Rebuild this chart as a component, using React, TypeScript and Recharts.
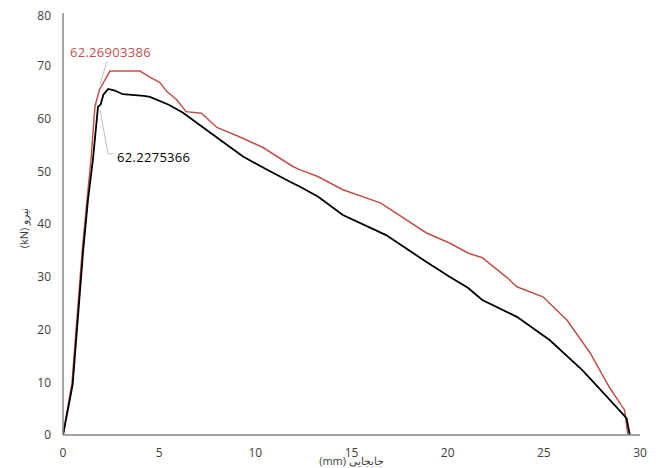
import React from "react";
import { LineChart, Line, XAxis, YAxis, ReferenceDot } from "recharts";

const xTicks = [0, 5, 10, 15, 20, 25, 30];
const yTicks = [0, 10, 20, 30, 40, 50, 60, 70, 80];

const blackX = [0, 0.5, 1.05, 1.3, 1.55, 1.82, 1.95, 2.1, 2.35, 2.7, 3.1, 4.2, 4.52, 5.5, 6.24, 8.0, 9.36, 10.4, 11.8, 12.3, 13.25, 14.55, 16.8, 18.9, 20.1, 21.05, 21.8, 23.6, 25.3, 27.0, 28.3, 29.3, 29.47];
const blackY = [0, 9.5, 35, 44.6, 52, 62.23, 62.6, 64.5, 65.6, 65.3, 64.6, 64.3, 64.1, 62.6, 61.1, 56.4, 52.8, 50.7, 48.0, 47.1, 45.2, 41.7, 37.9, 32.8, 30.0, 27.9, 25.6, 22.4, 18.0, 12.3, 7.2, 3.2, 0];

const redX = [0, 0.47, 1.0, 1.25, 1.45, 1.66, 1.9, 2.44, 4.0, 4.5, 5.04, 5.4, 5.9, 6.4, 7.2, 8.0, 9.2, 10.4, 11.95, 12.3, 13.25, 14.55, 16.5, 18.9, 20.1, 21.05, 21.8, 23.1, 23.6, 24.95, 26.2, 27.4, 28.4, 29.2, 29.37];
const redY = [0, 9.9, 35, 44.6, 52, 62.27, 65.5, 69.0, 69.0, 67.9, 66.8, 65.1, 63.6, 61.3, 61.0, 58.3, 56.5, 54.5, 50.9, 50.3, 49.0, 46.5, 44.0, 38.3, 36.4, 34.5, 33.6, 29.8, 28.1, 26.2, 21.8, 15.6, 9.1, 4.7, 0];

const redLabel = "62.26903386";
const blackLabel = "62.2275366";
const redPeakX = 1.66;
const redPeakY = 62.27;
const blackPeakX = 1.82;
const blackPeakY = 62.23;

const blackData = blackX.map((x, i) => ({ x, y: blackY[i] }));
const redData = redX.map((x, i) => ({ x, y: redY[i] }));

const RED = "#c0504d";
const AXIS = "#868686";
const FONT = "'Open Sans', 'Noto Sans', sans-serif";

const RedLabel = (props: any) => {
  const vb = props.viewBox || {};
  const cx = vb.x + (vb.width || 0) / 2;
  const cy = vb.y + (vb.height || 0) / 2;
  return (
    <g>
      <line x1={cx + 5} y1={cy - 22} x2={cx + 12} y2={cy - 45} stroke="#bfbfbf" strokeWidth={1} />
      <text x={cx - 25} y={cy - 55} fill={RED} fontSize={13} fontFamily={FONT} dominantBaseline="central" letterSpacing={0.3}>
        {redLabel}
      </text>
    </g>
  );
};

const BlackLabel = (props: any) => {
  const vb = props.viewBox || {};
  const cx = vb.x + (vb.width || 0) / 2;
  const cy = vb.y + (vb.height || 0) / 2;
  return (
    <g>
      <polyline points={`${cx + 2},${cy + 3} ${cx + 10},${cy + 47} ${cx + 15},${cy + 47}`} fill="none" stroke="#bfbfbf" strokeWidth={1} />
      <text x={cx + 19} y={cy + 50} fill="#000" fontSize={13} fontFamily={FONT} dominantBaseline="central" letterSpacing={0.3}>
        {blackLabel}
      </text>
    </g>
  );
};

const YLabel = (props: any) => {
  const vb = props.viewBox || {};
  const x = vb.x + 15;
  const y = vb.y + vb.height / 2 + 4;
  return (
    <text x={x} y={y} transform={`rotate(-90, ${x}, ${y})`} textAnchor="middle" dominantBaseline="central" fontSize={11} fontFamily={FONT} fill="#404040">
      (kN) نیرو
    </text>
  );
};

export default function App() {
  return (
    <div style={{ width: 653, height: 460 }}>
      <LineChart width={653} height={460} margin={{ top: 5, right: 21, bottom: 0, left: 0 }}>
        <XAxis
          dataKey="x"
          type="number"
          domain={[0, 30]}
          ticks={xTicks}
          allowDataOverflow
          height={33}
          tickLine={false}
          tickSize={0}
          tickMargin={13}
          axisLine={{ stroke: AXIS, strokeWidth: 1.5 }}
          tick={{ fill: "#404040", fontSize: 12, fontFamily: FONT }}
          label={{ value: "(mm) جابجایی", position: "insideBottom", offset: 3, fill: "#404040", fontSize: 11, fontFamily: FONT }}
        />
        <YAxis
          type="number"
          domain={[0, 80]}
          ticks={yTicks}
          width={55}
          tickLine={false}
          tickSize={0}
          tickMargin={12}
          axisLine={{ stroke: AXIS, strokeWidth: 1.5 }}
          tick={{ fill: "#404040", fontSize: 12, fontFamily: FONT }}
          label={<YLabel />}
        />
        <Line data={redData} dataKey="y" stroke={RED} strokeWidth={1.5} dot={false} isAnimationActive={false} type="linear" />
        <Line data={blackData} dataKey="y" stroke="#000" strokeWidth={1.8} dot={false} isAnimationActive={false} type="linear" />
        <ReferenceDot x={redPeakX} y={redPeakY} r={1} fill="none" stroke="none" label={<RedLabel />} />
        <ReferenceDot x={blackPeakX} y={blackPeakY} r={1} fill="none" stroke="none" label={<BlackLabel />} />
      </LineChart>
    </div>
  );
}
